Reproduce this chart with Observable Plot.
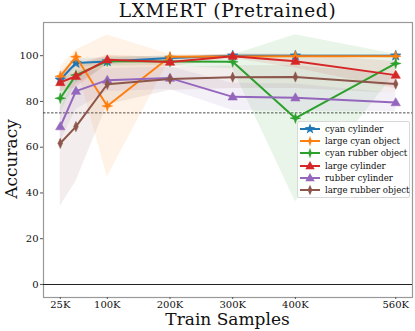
<!DOCTYPE html>
<html>
<head>
<meta charset="utf-8">
<script src="https://cdn.jsdelivr.net/npm/d3@7"></script>
<script src="https://cdn.jsdelivr.net/npm/@observablehq/plot@0.6"></script>
<style>
  body { margin: 0; background: #fff; }
  #wrap { position: relative; width: 415px; height: 331px; font-family: "DejaVu Serif", serif; }
  #wrap > svg { position: absolute; left: 0; top: 0; }
  .ov { position: absolute; white-space: nowrap; color: #111; }
  #legend { position: absolute; left: 297px; top: 121px; width: 111px; padding: 1px 0 1px 0;
            background: rgba(255,255,255,0.85); border: 1px solid #d8d8d8; border-radius: 2px; }
  .lrow { display: flex; align-items: center; height: 12.2px; font-size: 8.6px; color: #111; white-space: nowrap; }
  .lrow svg { flex: none; margin-right: 3px; }
</style>
</head>
<body>
<div id="wrap"></div>
<script>
// ---- data ----
const trainSamples = [25, 50, 100, 200, 300, 400, 560]; // thousands
const seriesNames = ["cyan cylinder", "large cyan object", "cyan rubber object", "large cylinder", "rubber cylinder", "large rubber object"];
const seriesColors = ["#1f77b4", "#ff7f0e", "#2ca02c", "#d62728", "#9467bd", "#8c564b"];
const meanCyanCylinder      = [89.5, 96.8, 97.5, 99.0, 100, 100, 100];
const meanLargeCyanObject   = [91.0, 99.5, 78.0, 99.5, 99.6, 99.8, 99.8];
const meanCyanRubberObject  = [81.4, 91.5, 97.6, 97.4, 97.3, 72.7, 96.6];
const meanLargeCylinder     = [88.3, 91.0, 98.2, 97.2, 99.8, 97.6, 91.5];
const meanRubberCylinder    = [69.0, 84.5, 89.3, 90.2, 82.0, 81.6, 79.5];
const meanLargeRubberObject = [61.7, 69.0, 87.5, 89.8, 90.6, 90.7, 87.6];
const stdCyanCylinder      = [3, 2, 1.5, 1, 0.5, 0.5, 0.5];
const stdLargeCyanObject   = [4, 3, 31, 1, 0.8, 0.5, 0.5];
const stdCyanRubberObject  = [6, 4, 2, 2, 3, 36.5, 4];
const stdLargeCylinder     = [4, 5, 2, 2, 1, 3, 6];
const stdRubberCylinder    = [7, 8, 5, 5, 6, 6, 4];
const stdLargeRubberObject = [27.5, 24, 9, 5, 5, 5, 4];
const xTicks = [25, 100, 200, 300, 400, 560];
const yTicks = [0, 20, 40, 60, 80, 100];
const threshold = 75;
const baseline = 0;

const means = [meanCyanCylinder, meanLargeCyanObject, meanCyanRubberObject, meanLargeCylinder, meanRubberCylinder, meanLargeRubberObject];
const stds = [stdCyanCylinder, stdLargeCyanObject, stdCyanRubberObject, stdLargeCylinder, stdRubberCylinder, stdLargeRubberObject];

// ---- custom symbols ----
const star4 = { draw(ctx, size) {
  const r = Math.sqrt(size / Math.PI) * 1.25, ri = r * 0.33;
  for (let i = 0; i < 8; i++) {
    const a = i * Math.PI / 4 - Math.PI / 2, rr = i % 2 ? ri : r;
    const px = rr * Math.cos(a), py = rr * Math.sin(a);
    i ? ctx.lineTo(px, py) : ctx.moveTo(px, py);
  }
  ctx.closePath();
}};
const thinDiamond = { draw(ctx, size) {
  const r = Math.sqrt(size / Math.PI) * 1.2;
  ctx.moveTo(0, -r); ctx.lineTo(r * 0.45, 0); ctx.lineTo(0, r); ctx.lineTo(-r * 0.45, 0); ctx.closePath();
}};
const triUp = { draw(ctx, size) {
  const r = Math.sqrt(size / Math.PI) * 1.15;
  ctx.moveTo(0, -r); ctx.lineTo(r * 0.95, r * 0.65); ctx.lineTo(-r * 0.95, r * 0.65); ctx.closePath();
}};
const starSym = { draw(ctx, size) {
  const r = Math.sqrt(size / Math.PI) * 1.3, ri = r * 0.42;
  for (let i = 0; i < 10; i++) {
    const a = i * Math.PI / 5 - Math.PI / 2, rr = i % 2 ? ri : r;
    const px = rr * Math.cos(a), py = rr * Math.sin(a);
    i ? ctx.lineTo(px, py) : ctx.moveTo(px, py);
  }
  ctx.closePath();
}};
const symbols = [starSym, star4, star4, triUp, triUp, thinDiamond];

// ---- table ----
const rows = [];
seriesNames.forEach((name, s) => {
  trainSamples.forEach((x, i) => {
    rows.push({series: s, name, x, y: means[s][i], lo: means[s][i] - stds[s][i], hi: means[s][i] + stds[s][i]});
  });
});

const marks = [
  Plot.frame({stroke: "#999", strokeWidth: 1.2}),
  Plot.ruleY([baseline], {stroke: "#222", strokeWidth: 1.1}),
  Plot.ruleY([threshold], {stroke: "#222", strokeWidth: 0.8, strokeDasharray: "2.5,1.5"}),
];
seriesNames.forEach((name, s) => {
  const d = rows.filter(r => r.series === s);
  marks.push(Plot.areaY(d, {x: "x", y1: "lo", y2: "hi", fill: seriesColors[s], fillOpacity: 0.1}));
});
seriesNames.forEach((name, s) => {
  const d = rows.filter(r => r.series === s);
  marks.push(Plot.line(d, {x: "x", y: "y", stroke: seriesColors[s], strokeWidth: 2}));
  marks.push(Plot.dot(d, {x: "x", y: "y", fill: seriesColors[s], stroke: seriesColors[s], strokeWidth: 0.5, r: 4.3, symbol: () => symbols[s]}));
});
marks.push(Plot.axisX({ticks: xTicks, tickFormat: d => d + "K", tickSize: 2, tickPadding: 1, fontSize: 10, label: null, stroke: "#555"}));
marks.push(Plot.axisY({ticks: yTicks, tickSize: 3, tickPadding: 2, fontSize: 10, label: null, stroke: "#555"}));

const chart = Plot.plot({
  width: 415, height: 331,
  marginLeft: 43, marginRight: 3, marginTop: 22, marginBottom: 34,
  x: {domain: [-1.75, 586.75]},
  y: {domain: [-5.7, 114.5]},
  style: {fontFamily: "DejaVu Serif", color: "#111", background: "white"},
  marks
});
const wrap = document.getElementById("wrap");
wrap.appendChild(chart);

function ov(text, css) {
  const el = document.createElement("div");
  el.className = "ov"; el.textContent = text; el.style.cssText += css; wrap.appendChild(el); return el;
}
ov("LXMERT (Pretrained)", "left:0;width:455px;text-align:center;top:0px;font-size:18.5px;letter-spacing:0.7px;");
ov("Train Samples", "left:43px;width:369px;text-align:center;top:309px;font-size:17px;line-height:20px;");
ov("Accuracy", "left:-49px;top:149px;width:120px;height:20px;line-height:20px;text-align:center;font-size:17px;transform:rotate(-90deg);");

// legend
const leg = document.createElement("div");
leg.id = "legend";
seriesNames.forEach((name, s) => {
  const row = document.createElement("div"); row.className = "lrow";
  const ns = "http://www.w3.org/2000/svg";
  const sv = document.createElementNS(ns, "svg");
  sv.setAttribute("width", 24); sv.setAttribute("height", 12);
  const ln = document.createElementNS(ns, "line");
  ln.setAttribute("x1", 2); ln.setAttribute("x2", 22); ln.setAttribute("y1", 6); ln.setAttribute("y2", 6);
  ln.setAttribute("stroke", seriesColors[s]); ln.setAttribute("stroke-width", 2);
  const mk = document.createElementNS(ns, "path");
  mk.setAttribute("d", d3.symbol(symbols[s], Math.PI * 4.3 * 4.3)());
  mk.setAttribute("transform", "translate(12,6)");
  mk.setAttribute("fill", seriesColors[s]);
  sv.appendChild(ln); sv.appendChild(mk);
  const tx = document.createElement("span"); tx.textContent = name;
  row.appendChild(sv); row.appendChild(tx); leg.appendChild(row);
});
wrap.appendChild(leg);
</script>
</body>
</html>
